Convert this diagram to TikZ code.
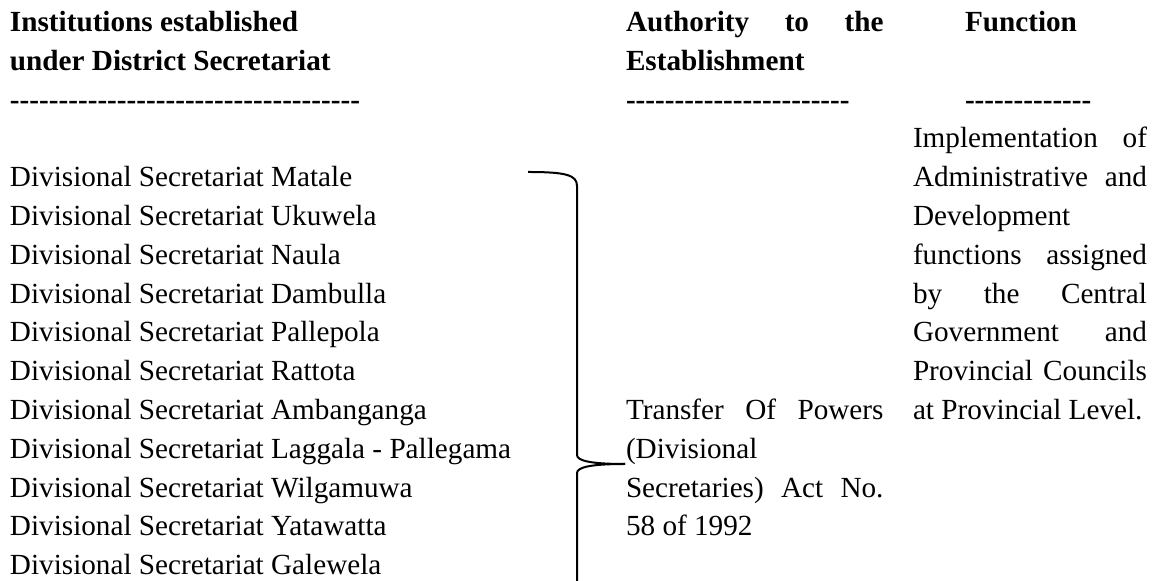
\documentclass[tikz,border=0pt]{standalone}
\usepackage{fontspec}
\setmainfont{Liberation Serif}
\newcommand\justline[2]{\makebox[#1][s]{#2}}
\newcommand\hyph{\hbox{-}}
\newcommand\dashrun[1]{\foreach \n in {1,...,#1}{\hyph}}
\begin{document}
\begin{tikzpicture}[x=0.5pt,y=-0.5pt,
  txt/.style={inner sep=0pt, outer sep=0pt, anchor=base west, font=\fontsize{14.6pt}{19.4pt}\selectfont},
  hdr/.style={txt, font=\fontsize{14.6pt}{19.4pt}\selectfont\bfseries},
  bracestyle/.style={draw=black, line width=1pt}]
\useasboundingbox (0,0) rectangle (1162,581);
% headers
\node[hdr] (h1a) at (10,31.6) {Institutions established};
\node[hdr] (h1b) at (10,70.4) {under District Secretariat};
\node[hdr] (h1d) at (10,109.2) {\dashrun{36}};
\node[hdr] (h2a) at (626,31.6) {\justline{128.75pt}{Authority to the}};
\node[hdr] (h2b) at (626,70.4) {Establishment};
\node[hdr] (h2d) at (626,109.2) {\dashrun{23}};
\node[hdr] (h3a) at (965,31.6) {Function};
\node[hdr] (h3d) at (965,109.2) {\dashrun{13}};
% left column
\node[txt] (l4) at (10,186.8) {Divisional Secretariat Matale};
\node[txt] (l5) at (10,225.6) {Divisional Secretariat Ukuwela};
\node[txt] (l6) at (10,264.4) {Divisional Secretariat Naula};
\node[txt] (l7) at (10,303.2) {Divisional Secretariat Dambulla};
\node[txt] (l8) at (10,342.0) {Divisional Secretariat Pallepola};
\node[txt] (l9) at (10,380.8) {Divisional Secretariat Rattota};
\node[txt] (l10) at (10,419.6) {Divisional Secretariat Ambanganga};
\node[txt] (l11) at (10,458.4) {Divisional Secretariat Laggala - Pallegama};
\node[txt] (l12) at (10,497.2) {Divisional Secretariat Wilgamuwa};
\node[txt] (l13) at (10,536.0) {Divisional Secretariat Yatawatta};
\node[txt] (l14) at (10,574.8) {Divisional Secretariat Galewela};
% authority column
\node[txt] (a10) at (626,419.6) {\justline{128.75pt}{Transfer Of Powers}};
\node[txt] (a11) at (626,458.4) {(Divisional};
\node[txt] (a12) at (626,497.2) {\justline{128.75pt}{Secretaries) Act No.}};
\node[txt] (a13) at (626,536.0) {58 of 1992};
% function column
\node[txt] (f3) at (913,148.0) {\justline{117pt}{Implementation of}};
\node[txt] (f4) at (913,186.8) {\justline{117pt}{Administrative and}};
\node[txt] (f5) at (913,225.6) {Development};
\node[txt] (f6) at (913,264.4) {\justline{117pt}{functions assigned}};
\node[txt] (f7) at (913,303.2) {\justline{117pt}{by the Central}};
\node[txt] (f8) at (913,342.0) {\justline{117pt}{Government and}};
\node[txt] (f9) at (913,380.8) {\justline{117pt}{Provincial Councils}};
\node[txt] (f10) at (913,419.6) {at Provincial Level.};
% brace
\coordinate (bTop) at (528,172);
\coordinate (bTip) at (625,464);
\coordinate (bEnd) at (577,581);
\draw[bracestyle] (bTop) .. controls (566,172) and (577,175) .. (577,186)
  -- (577,455) .. controls (577,461) and (592,464) .. (bTip);
\draw[bracestyle] (bTip) .. controls (592,464) and (577,467) .. (577,473) -- (bEnd);
\end{tikzpicture}
\end{document}
